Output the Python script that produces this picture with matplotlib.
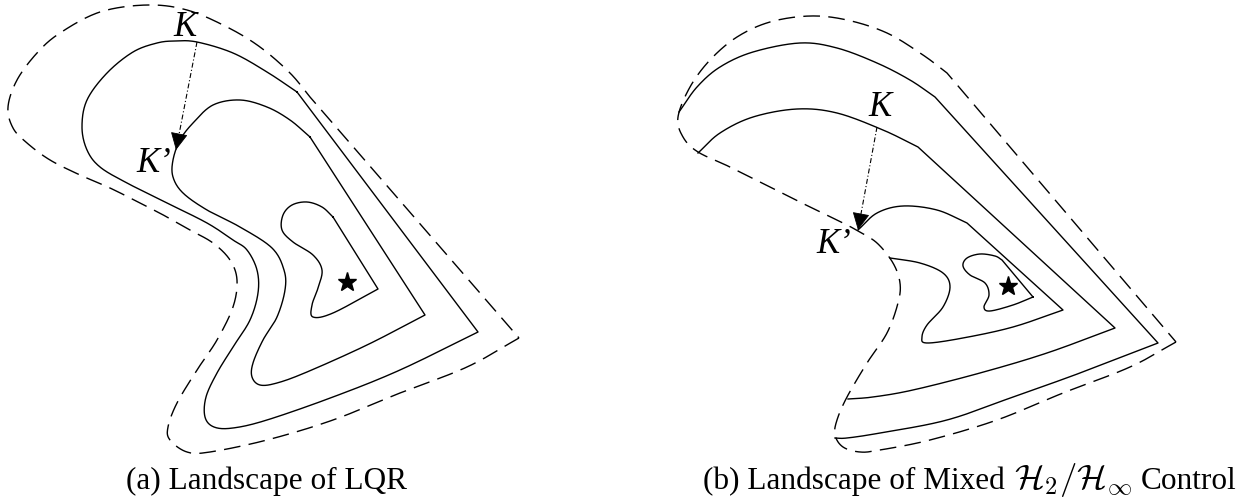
import numpy as np
import matplotlib
matplotlib.use("Agg")
import matplotlib.pyplot as plt
from matplotlib.patches import FancyArrowPatch

# contour sketches, pixel coordinates (x right, y down)
# each curve = list of pieces; 2-point pieces are straight, longer ones are splined

# (a) LQR
a_dash = [
    [(519, 338), (467, 367), (400, 393), (333, 420), (267, 440), (210, 452), (187, 452),
     (170, 440), (168, 427), (177, 403), (197, 370), (217, 340), (233, 307), (237, 280),
     (230, 260), (213, 243), (190, 230), (167, 217), (140, 203), (110, 188), (80, 175),
     (50, 160), (27, 143), (13, 128), (8, 107), (17, 80), (37, 53), (60, 33), (100, 12),
     (147, 5), (187, 10), (227, 27), (260, 47), (290, 73), (310, 97)],
    [(310, 97), (519, 338)],
]
a_lvl1 = [
    [(297, 92), (478, 332)],
    [(478, 332), (400, 370), (333, 397), (267, 420), (233, 428), (214, 427), (205, 417),
     (206, 397), (217, 373), (233, 347), (250, 320), (258, 293), (257, 270), (247, 250),
     (233, 240), (207, 223), (167, 203), (127, 183), (100, 167), (87, 150), (82, 127),
     (87, 100), (107, 73), (133, 52), (157, 43), (175, 41), (197, 42), (233, 53),
     (267, 72), (297, 92)],
]
a_lvl2 = [
    [(310, 137), (425, 315)],
    [(425, 315), (367, 345), (307, 372), (277, 383), (260, 385), (252, 377), (253, 363),
     (263, 340), (277, 317), (285, 290), (284, 270), (272, 248), (240, 227), (207, 210),
     (183, 193), (173, 177), (173, 160), (180, 140), (193, 123), (213, 105), (240, 100),
     (267, 107), (290, 120), (310, 137)],
]
a_lvl3 = [
    [(333, 217), (378, 289)],
    [(378, 289), (333, 313), (313, 317), (312, 305), (318, 288), (322, 270), (313, 255),
     (293, 242), (282, 230), (283, 215), (292, 205), (307, 202), (322, 207), (333, 217)],
]
a_star = (347, 282)
a_arrow = [(197, 42), (176, 150)]
a_labels = [("K", 185, 27), ("K\u2019", 154, 163)]

# (b) mixed H2/Hinf
b_dash = [
    [(1176, 342), (1130, 367), (1063, 393), (997, 420), (930, 440), (880, 450), (860, 452),
     (843, 447), (835, 435), (837, 420), (847, 397), (867, 363), (887, 333), (898, 303),
     (900, 283), (893, 263), (877, 243), (858, 231), (843, 223), (810, 207), (770, 187),
     (730, 167), (698, 152), (683, 137), (678, 117), (690, 87), (710, 60), (737, 37),
     (770, 22), (810, 16), (847, 20), (887, 33), (923, 55), (947, 73)],
    [(947, 73), (1176, 342)],
]
b_lvl1 = [
    [(679, 112), (697, 87), (720, 67), (753, 52), (800, 43), (837, 48), (877, 63),
     (910, 80), (935, 97)],
    [(935, 97), (1158, 343)],
    [(1158, 343), (1080, 373), (1013, 397), (947, 420), (880, 433), (847, 438), (835, 438)],
]
b_lvl2 = [
    [(698, 153), (720, 133), (753, 117), (797, 109), (837, 113), (883, 130), (918, 147)],
    [(918, 147), (1115, 328)],
    [(1115, 328), (1047, 353), (980, 373), (913, 390), (873, 397), (848, 399)],
]
b_lvl3 = [
    [(858, 230), (877, 213), (903, 206), (937, 210), (967, 223)],
    [(967, 223), (1063, 310)],
    [(1063, 310), (1013, 327), (963, 338), (927, 343), (922, 337), (927, 325), (943, 307),
     (950, 287), (943, 273), (920, 263), (890, 258)],
]
b_lvl4 = [
    [(1033, 297), (1013, 305), (990, 311), (984, 307), (989, 295), (985, 283), (970, 275),
     (963, 266), (967, 258), (980, 254), (995, 256), (1002, 260)],
    [(1002, 260), (1033, 297)],
]
b_star = (1008, 286)
b_arrow = [(877, 127), (858, 230)]
b_labels = [("K", 880, 107), ("K\u2019", 834, 244)]

# captions: (text, fontsize) parts laid side by side, centred on x
caption_a = [("(a) Landscape of LQR", 22.5)]
caption_b = [("(b) Landscape of Mixed", 22.5),
             (r"$\mathcal{H}_2/\mathcal{H}_\infty$", 25),
             ("Control", 22.5)]
caption_x = [267, 970]


def spline(pts, n=24):
    p = np.asarray(pts, float)
    if len(p) < 3:
        return p
    p = np.vstack([2 * p[0] - p[1], p, 2 * p[-1] - p[-2]])
    t = np.linspace(0, 1, n, endpoint=False)[:, None]
    out = []
    for i in range(1, len(p) - 2):
        p0, p1, p2, p3 = p[i - 1], p[i], p[i + 1], p[i + 2]
        out.append(0.5 * (2 * p1 + (-p0 + p2) * t + (2 * p0 - 5 * p1 + 4 * p2 - p3) * t ** 2
                          + (-p0 + 3 * p1 - 3 * p2 + p3) * t ** 3))
    out.append(p[-2][None])
    return np.vstack(out)


def curve(pieces):
    return np.vstack([spline(pc) for pc in pieces])


plt.rcParams["mathtext.fontset"] = "cm"
fig = plt.figure(figsize=(12.53, 4.99), dpi=100)
ax = fig.add_axes([0, 0, 1, 1])
ax.set_xlim(0, 1253)
ax.set_ylim(499, 0)
ax.axis("off")

for dash, solids, star, arrow, labels in [
        (a_dash, [a_lvl1, a_lvl2, a_lvl3], a_star, a_arrow, a_labels),
        (b_dash, [b_lvl1, b_lvl2, b_lvl3, b_lvl4], b_star, b_arrow, b_labels)]:
    c = curve(dash)
    ax.plot(c[:, 0], c[:, 1], color="black", lw=1.0, linestyle=(0, (12, 6)))
    for s in solids:
        c = curve(s)
        ax.plot(c[:, 0], c[:, 1], color="black", lw=1.0)
    ax.plot(*star, marker="*", color="black", markersize=14)

    # dash-dot shaft, solid filled head
    (x0, y0), (x1, y1) = arrow
    d = np.hypot(x1 - x0, y1 - y0)
    bx, by = x1 - (x1 - x0) * 15 / d, y1 - (y1 - y0) * 15 / d
    ax.plot([x0, bx], [y0, by], color="black", lw=0.8, linestyle=(0, (4.5, 2, 1, 2)))
    ax.add_patch(FancyArrowPatch((bx, by), (x1, y1),
                                 arrowstyle="-|>,head_length=11,head_width=5.5",
                                 color="black", lw=0.6, mutation_scale=1,
                                 shrinkA=0, shrinkB=0))
    for txt, x, y in labels:
        ax.text(x, y, txt, fontsize=25, family="Liberation Serif", style="italic",
                ha="center", va="center")

renderer = fig.canvas.get_renderer()
for parts, cx in zip([caption_a, caption_b], caption_x):
    objs = [ax.text(0, 489, s, fontsize=fs, family="Liberation Serif", va="baseline")
            for s, fs in parts]
    widths = [t.get_window_extent(renderer).width for t in objs]
    gap = 9
    x = cx - (sum(widths) + gap * (len(objs) - 1)) / 2
    for t, w in zip(objs, widths):
        t.set_x(x)
        x += w + gap

fig.savefig("out.png", dpi=100)
